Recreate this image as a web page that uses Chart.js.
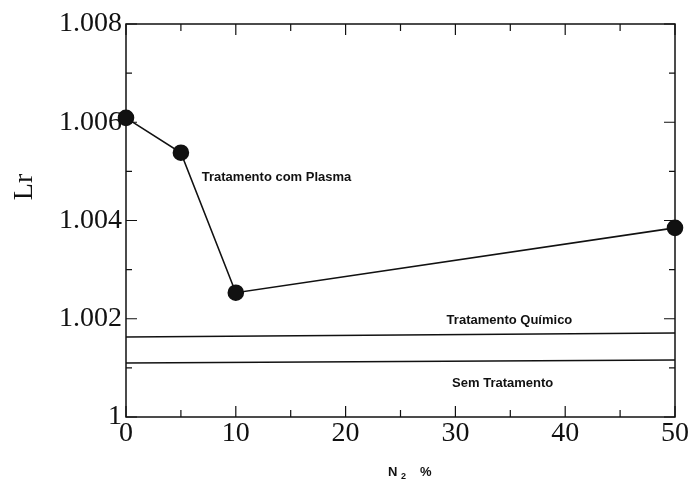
<!DOCTYPE html>
<html>
<head>
<meta charset="utf-8">
<script src="https://cdn.jsdelivr.net/npm/chart.js@4.4.1/dist/chart.umd.min.js"></script>
<style>
  html, body { margin: 0; padding: 0; background: #fff; }
  #wrap { width: 694px; height: 485px; }
</style>
</head>
<body>
<div id="wrap"><canvas id="lrChart"></canvas></div>
<script>
// N2 content (%) and Lr for the plasma-treated samples
const n2Percent = [0, 5, 10, 50];
const lrPlasma = [1.00609, 1.00538, 1.00253, 1.00385];

// reference levels (ends of each line)
const lineEnds = [0, 50];
const lrQuimico = [1.00163, 1.00171];
const lrSemTrat = [1.00110, 1.00116];

// axis ranges and tick steps
const xRange = [0, 50];
const yRange = [1.000, 1.008];
const xStep = 10;
const yStep = 0.002;

// text labels inside the plot: [text, x, y]
const notes = [
    ['Tratamento com Plasma', 6.9, 1.00487],
    ['Tratamento Químico', 29.2, 1.00196],
    ['Sem Tratamento', 29.7, 1.00069]
];

const ink = '#111';
const serif = '"Liberation Serif", "DejaVu Serif", serif';
const sans = '"Liberation Sans", Arial, sans-serif';

const toXY = (xs, ys) => xs.map((x, i) => ({ x: x, y: ys[i] }));

// frame, inward ticks on all four sides, labels and axis titles
const framePlugin = {
    id: 'frame',
    beforeDatasetsDraw(chart) {
        const { ctx, chartArea: a, scales: { x, y } } = chart;
        ctx.save();
        ctx.strokeStyle = ink;
        ctx.lineWidth = 1.5;
        ctx.strokeRect(a.left, a.top, a.right - a.left, a.bottom - a.top);

        ctx.lineWidth = 1.2;
        ctx.beginPath();
        for (let v = xRange[0]; v <= xRange[1] + 1e-9; v += xStep / 2) {
            const px = x.getPixelForValue(v);
            const len = Math.round(v) % xStep === 0 ? 11 : 7;
            ctx.moveTo(px, a.bottom); ctx.lineTo(px, a.bottom - len);
            ctx.moveTo(px, a.top); ctx.lineTo(px, a.top + len);
        }
        for (let k = 0; k <= 8; k++) {
            const v = yRange[0] + k * yStep / 2;
            const py = y.getPixelForValue(v);
            const len = k % 2 === 0 ? 11 : 6;
            ctx.moveTo(a.left, py); ctx.lineTo(a.left + len, py);
            ctx.moveTo(a.right, py); ctx.lineTo(a.right - len, py);
        }
        ctx.stroke();

        ctx.fillStyle = ink;
        ctx.font = 'bold 13px ' + sans;
        ctx.textAlign = 'left';
        ctx.textBaseline = 'middle';
        notes.forEach(([t, nx, ny]) => {
            ctx.fillText(t, x.getPixelForValue(nx), y.getPixelForValue(ny));
        });

        // y title
        ctx.save();
        ctx.translate(25, 187);
        ctx.rotate(-Math.PI / 2);
        ctx.font = '28px ' + serif;
        ctx.textAlign = 'center';
        ctx.fillText('Lr', 0, 0);
        ctx.restore();

        // x title: N2 %
        ctx.font = 'bold 13px ' + sans;
        ctx.textAlign = 'left';
        ctx.fillText('N', 388, 472);
        ctx.font = 'bold 9px ' + sans;
        ctx.fillText('2', 401, 477);
        ctx.font = 'bold 13px ' + sans;
        ctx.fillText('%', 420, 472);
        ctx.restore();
    }
};

new Chart(document.getElementById('lrChart'), {
    type: 'scatter',
    data: {
        datasets: [
            {
                label: 'Tratamento com Plasma',
                data: toXY(n2Percent, lrPlasma),
                showLine: true,
                clip: false,
                borderColor: ink,
                borderWidth: 1.6,
                backgroundColor: ink,
                pointRadius: 7.5,
                pointHoverRadius: 7.5
            },
            {
                label: 'Tratamento Químico',
                data: toXY(lineEnds, lrQuimico),
                showLine: true,
                borderColor: ink,
                borderWidth: 1.6,
                pointRadius: 0
            },
            {
                label: 'Sem Tratamento',
                data: toXY(lineEnds, lrSemTrat),
                showLine: true,
                borderColor: ink,
                borderWidth: 1.6,
                pointRadius: 0
            }
        ]
    },
    options: {
        responsive: true,
        maintainAspectRatio: false,
        animation: false,
        layout: { padding: { top: 24, right: 19, left: 0, bottom: 0 } },
        plugins: {
            legend: { display: false },
            tooltip: { enabled: false }
        },
        scales: {
            x: {
                type: 'linear',
                min: xRange[0],
                max: xRange[1],
                grid: { display: false, drawTicks: false },
                border: { display: false },
                ticks: {
                    stepSize: xStep,
                    padding: 0,
                    color: ink,
                    font: { family: serif, size: 28 },
                    maxRotation: 0
                },
                afterFit: s => { s.height = 68; }
            },
            y: {
                min: yRange[0],
                max: yRange[1],
                grid: { display: false, drawTicks: false },
                border: { display: false },
                ticks: {
                    stepSize: yStep,
                    padding: 4,
                    color: ink,
                    font: { family: serif, size: 28 },
                    callback: v => (Math.abs(v - 1) < 1e-9 ? '1' : v.toFixed(3))
                },
                afterFit: s => { s.width = 126; }
            }
        }
    },
    plugins: [framePlugin]
});
</script>
</body>
</html>
